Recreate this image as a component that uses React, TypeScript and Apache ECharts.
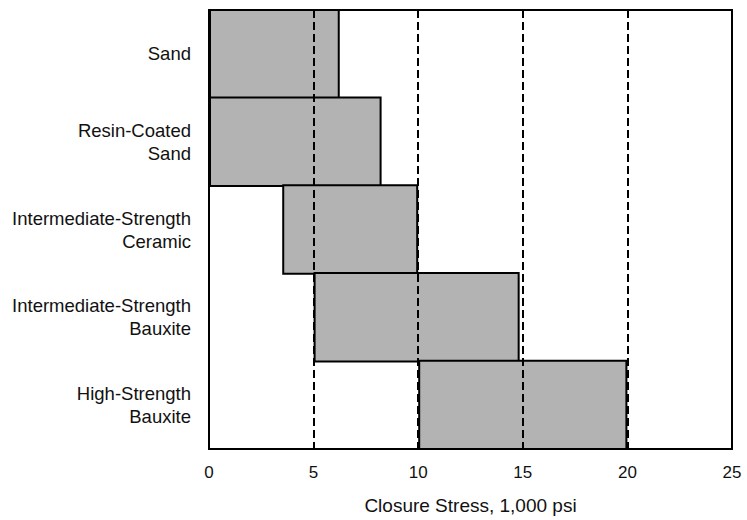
import React, { useEffect, useRef } from "react";
import * as echarts from "echarts";

const categories = [
  "Sand",
  "Resin-Coated\nSand",
  "Intermediate-Strength\nCeramic",
  "Intermediate-Strength\nBauxite",
  "High-Strength\nBauxite",
];
const rangeStart = [0, 0, 3.5, 5, 10];
const rangeEnd = [6.25, 8.25, 10, 14.85, 20];
const dashedLines = [5, 10, 15, 20];
const xTicks = [0, 5, 10, 15, 20, 25];

const GRID_TOP = 10;
const GRID_BOTTOM = 67;
const HEIGHT = 520;

export default function App() {
  const ref = useRef<HTMLDivElement>(null);
  useEffect(() => {
    if (!ref.current) return;
    const chart = echarts.init(ref.current, null, { renderer: "svg" });
    const font = "'Liberation Sans', Arial, sans-serif";
    const band = (HEIGHT - GRID_TOP - GRID_BOTTOM) / categories.length;
    chart.setOption({
      animation: false,
      backgroundColor: "#ffffff",
      grid: {
        left: 209,
        right: 15,
        top: GRID_TOP,
        bottom: GRID_BOTTOM,
        show: true,
        borderColor: "#000",
        borderWidth: 2,
        backgroundColor: "transparent",
      },
      xAxis: {
        type: "value",
        min: xTicks[0],
        max: xTicks[xTicks.length - 1],
        interval: 5,
        name: "Closure Stress, 1,000 psi",
        nameLocation: "middle",
        nameGap: 47,
        nameTextStyle: { fontFamily: font, fontSize: 19, color: "#111" },
        axisLine: { show: true, lineStyle: { color: "#000", width: 2 } },
        axisTick: { show: true, inside: true, length: 5, lineStyle: { color: "#000", width: 2 } },
        axisLabel: { fontFamily: font, fontSize: 17, color: "#111", margin: 15 },
        splitLine: { show: false },
      },
      yAxis: {
        type: "category",
        data: categories,
        inverse: true,
        axisLine: { show: true, lineStyle: { color: "#000", width: 2 } },
        axisTick: { show: false },
        axisLabel: {
          fontFamily: font,
          fontSize: 18.5,
          color: "#111",
          margin: 18,
          lineHeight: 23,
          align: "right",
        },
        splitLine: { show: false },
      },
      series: [
        {
          type: "bar",
          stack: "r",
          data: rangeStart,
          itemStyle: { color: "transparent" },
          barWidth: band + 2,
          silent: true,
        },
        {
          type: "bar",
          stack: "r",
          data: rangeEnd.map((e, i) => +(e - rangeStart[i]).toFixed(3)),
          itemStyle: { color: "#b3b3b3", borderColor: "#000", borderWidth: 2 },
          barWidth: band + 2,
          markLine: {
            silent: true,
            symbol: "none",
            label: { show: false },
            lineStyle: { color: "#000", width: 2, type: [8, 4] },
            data: dashedLines.map((v) => ({ xAxis: v })),
            z: 10,
          },
        },
      ],
    });
    return () => chart.dispose();
  }, []);
  return (
    <div
      ref={ref}
      style={{ position: "absolute", left: 0, top: 0, width: 747, height: 520 }}
    />
  );
}
